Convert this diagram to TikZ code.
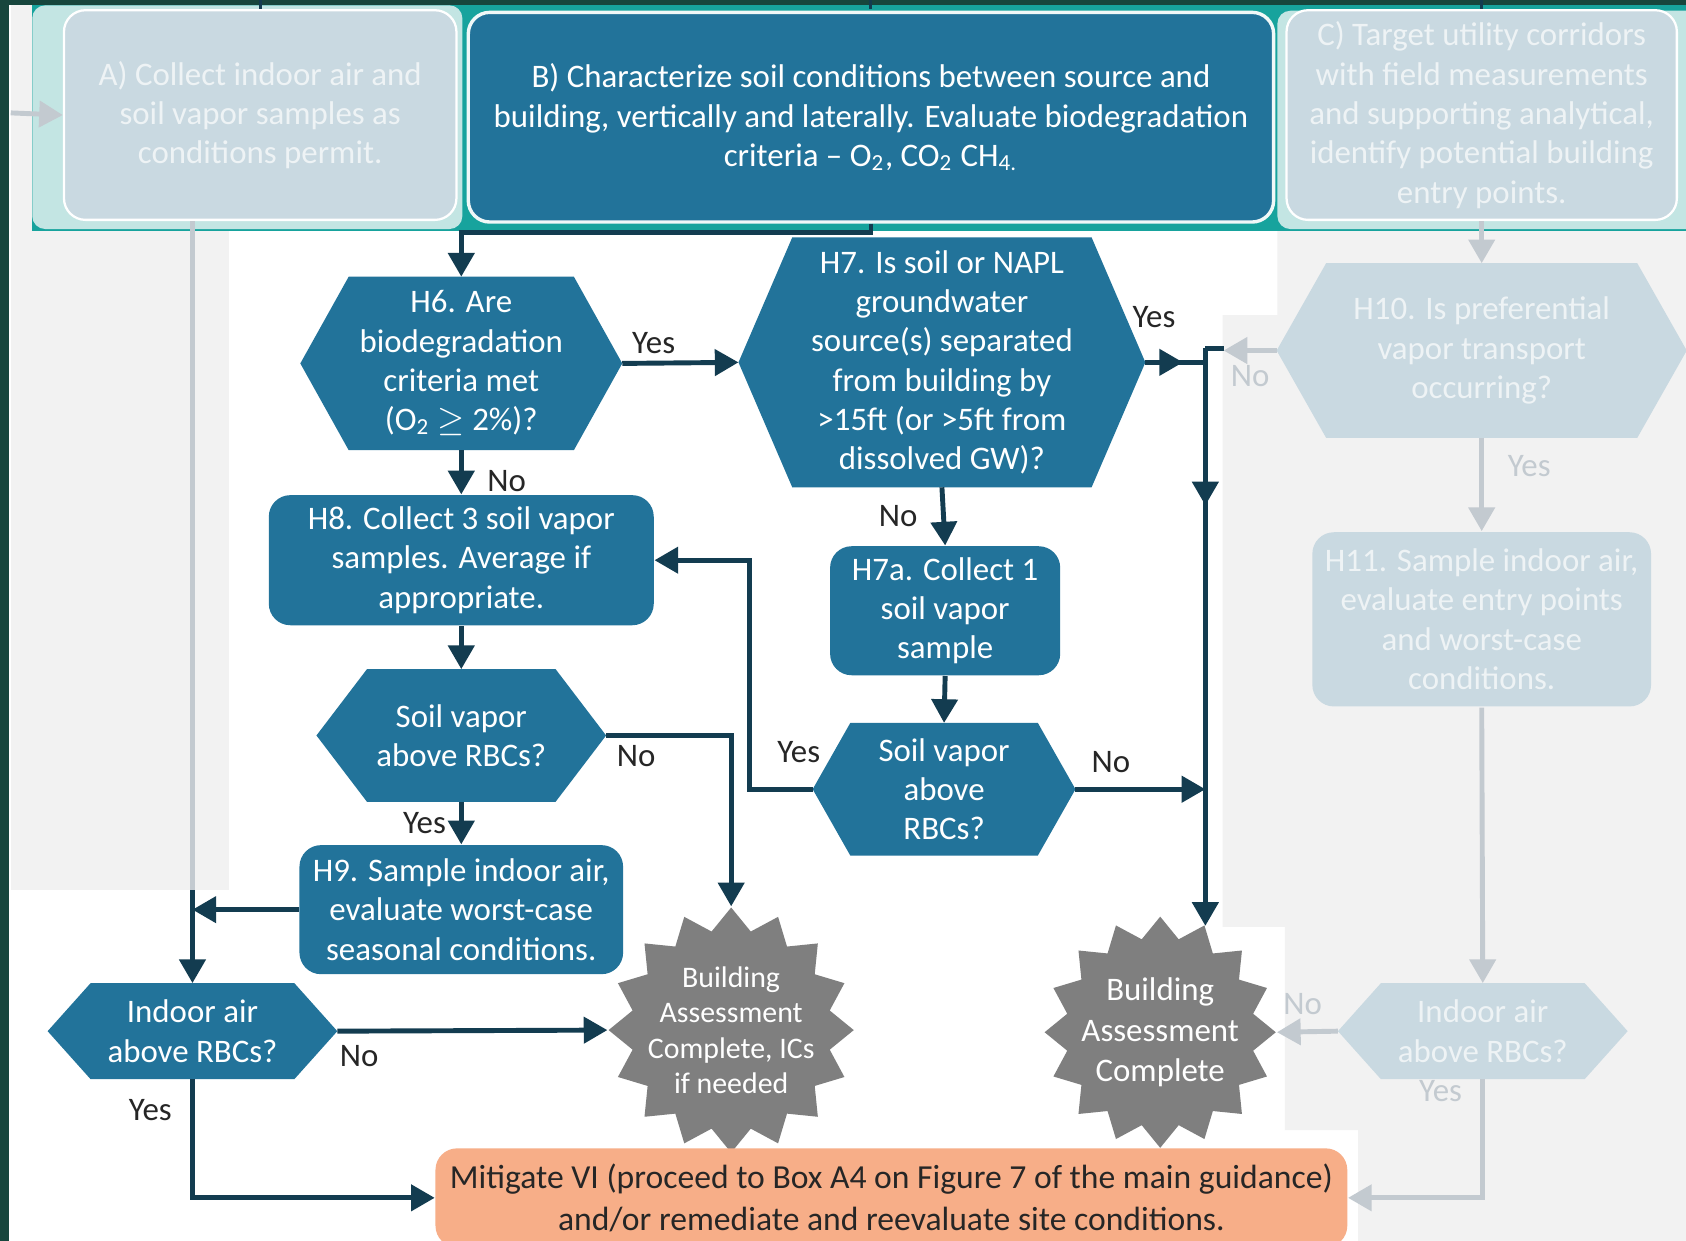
\documentclass[tikz,border=0pt]{standalone}
\usepackage{fontspec}
\setmainfont{Carlito}
\usetikzlibrary{arrows.meta, positioning, calc, shapes.geometric, backgrounds}

\definecolor{nodeblue}{HTML}{22739A}
\definecolor{darkline}{HTML}{133C50}
\definecolor{fadedfill}{HTML}{C9D9E1}
\definecolor{fadedtext}{HTML}{EEF3F5}
\definecolor{fadedline}{HTML}{C3CAD0}
\definecolor{tealband}{HTML}{17A39D}
\definecolor{mint}{HTML}{C3E5E3}
\definecolor{bggrey}{HTML}{F2F2F2}
\definecolor{edgegreen}{HTML}{17463D}
\definecolor{stargrey}{HTML}{7F7F7F}
\definecolor{mitigorange}{HTML}{F7AE88}
\definecolor{labeltext}{HTML}{262626}

\tikzset{
  box/.style={rectangle, rounded corners=2mm, fill=nodeblue, text=white, align=center,
    font=\fontsize{8.7}{10.4}\selectfont, inner sep=0pt},
  fadedbox/.style={box, fill=fadedfill, text=fadedtext, draw=white, line width=0.6pt},
  hexa/.style={rectangle, text=white, align=center, font=\fontsize{8.7}{10.4}\selectfont, inner sep=0pt},
  fadedhexa/.style={hexa, text=fadedtext},
  starn/.style={star, star points=16, star point ratio=1.22, fill=stargrey, inner sep=0pt},
  startxt/.style={text=white, align=center, font=\fontsize{8.7}{10.6}\selectfont},
  conn/.style={draw=darkline, line width=1.3pt},
  arr/.style={conn, -{Triangle[length=2.2mm, width=2.4mm]}},
  fadedconn/.style={draw=fadedline, line width=1.3pt},
  fadedarr/.style={fadedconn, -{Triangle[length=2.2mm, width=2.4mm]}},
  lbl/.style={text=labeltext, font=\fontsize{8.7}{10.4}\selectfont, inner sep=0.7mm},
  fadedlbl/.style={lbl, text=fadedline}
}

\begin{document}
\begin{tikzpicture}[x=0.1mm, y=-0.1mm]
\useasboundingbox (0,0) rectangle (1568,1154);

% top row
\node[fadedbox, minimum width=36.5mm, minimum height=19.5mm] (boxA) at (242,107) {A) Collect indoor air and\\soil vapor samples as\\conditions permit.};
\node[box, draw=white!75!mint, line width=0.9pt, minimum width=74.9mm, minimum height=19.5mm] (boxB) at (810,109)
  {B) Characterize soil conditions between source and\\
   building, vertically and laterally. Evaluate biodegradation\\
   criteria -- O\textsubscript{2}, CO\textsubscript{2} CH\textsubscript{4.}};
\node[fadedbox, minimum width=36.3mm, minimum height=19.5mm] (boxC) at (1378,107) {C) Target utility corridors\\with field measurements\\and supporting analytical,\\identify potential building\\entry points.};

% middle column
\node[hexa, minimum width=29.8mm, minimum height=16mm] (h6) at (429,338) {H6. Are\\biodegradation\\criteria met\\(O\textsubscript{2} $\geq$ 2\%)?};
\node[hexa, minimum width=37.7mm, minimum height=23.1mm] (h7) at (876,337) {H7. Is soil or NAPL\\groundwater\\source(s) separated\\from building by\\>15ft (or >5ft from\\dissolved GW)?};
\node[box, minimum width=35.8mm, minimum height=12.1mm] (h8) at (429,521) {H8. Collect 3 soil vapor\\samples. Average if\\appropriate.};
\node[hexa, minimum width=26.8mm, minimum height=12.2mm] (sv1) at (429,684) {Soil vapor\\above RBCs?};
\node[box, minimum width=30.1mm, minimum height=12mm] (h9) at (429,846) {H9. Sample indoor air,\\evaluate worst-case\\seasonal conditions.};
\node[hexa, minimum width=26.8mm, minimum height=8.8mm] (ia1) at (179,959) {Indoor air\\above RBCs?};
\node[box, minimum width=21.4mm, minimum height=12mm] (h7a) at (879,568) {H7a. Collect 1\\soil vapor\\sample};
\node[hexa, minimum width=24.3mm, minimum height=12.2mm] (sv2) at (878,734) {Soil vapor\\above\\RBCs?};
\node[starn, minimum size=22.8mm, label={[startxt, font=\fontsize{7.9}{9.4}\selectfont]center:{Building\\Assessment\\Complete, ICs\\if needed}}] (star1) at (680,958) {};
\node[starn, minimum size=21.5mm, label={[startxt]center:{Building\\Assessment\\Complete}}] (star2) at (1079,960) {};
\node[box, fill=mitigorange, text=labeltext, font=\fontsize{8.9}{11.1}\selectfont, minimum width=84.8mm, minimum height=9.2mm] (mitig) at (829,1114) {Mitigate VI (proceed to Box A4 on Figure 7 of the main guidance)\\and/or remediate and reevaluate site conditions.};

% right column (faded)
\node[fadedhexa, minimum width=38mm, minimum height=16.1mm] (h10) at (1378,326) {H10. Is preferential\\vapor transport\\occurring?};
\node[fadedbox, draw=none, minimum width=31.5mm, minimum height=16.2mm] (h11) at (1378,576) {H11. Sample indoor air,\\evaluate entry points\\and worst-case\\conditions.};
\node[fadedhexa, minimum width=26.8mm, minimum height=8.8mm] (ia2) at (1379,959) {Indoor air\\above RBCs?};

\coordinate (vx) at (star2.67.5);
\coordinate (vtop) at ($(vx |- h7.east)+(0,-13)$);
\coordinate (vtick) at ($(vtop)+(17,0)$);
\coordinate (greyend) at (ia1.north |- 0,828);
\coordinate (ain) at (10,105);

% connectors
\foreach \b in {boxA, boxB, boxC}
  \draw[conn, line width=0.8pt] (\b.north |- 0,0) -- ++(0,8);
\draw[arr] (boxB.south) -- ++(0,8) -| (h6.north);
\draw[arr] (h6.east) -- (h7.west) node[lbl, at start, above right] (yes1) {Yes};
\draw[arr] (h6.south) -- (h8.north) node[lbl, pos=0.7, right=1.5mm] (no1) {No};
\draw[arr] (h8.south) -- (sv1.north);
\draw[arr] (sv1.south) -- (h9.north) node[lbl, midway, left=0.5mm] (yes2) {Yes};
\draw[arr] (sv1.east) -| (star1.north) node[lbl, pos=0.12, below] (no2) {No};
\draw[conn] (h7.east) -- (h7.east -| vx);
\draw[arr] (h7.east) -- ++(35,0) node[lbl, at start, above=2.3mm, xshift=0.8mm] (yes3) {Yes};
\draw[conn] (vtop) -- (vtick);
\draw[arr] (vtop) -- (star2.67.5);
\draw[arr] (vtop) -- ++(0,146);
\draw[arr] (h7.south) -- (h7a.north) node[lbl, midway, left=1.5mm] (no3) {No};
\draw[arr] (h7a.south) -- (sv2.north);
\draw[arr] (sv2.east) -- (sv2.east -| vx) node[lbl, at start, above right=0.8mm] (no4) {No};
\draw[arr] (sv2.west) -- ++(-59,0) node[lbl, at start, above=1.5mm, xshift=-1.3mm] (yes4) {Yes} |- (h8.east);
\draw[fadedconn] (boxA.south -| ia1.north) -- (greyend);
\draw[arr] (greyend) -- (ia1.north);
\draw[arr] (h9.west) -- (h9.west -| ia1.north);
\draw[arr] (ia1.east) -- (star1.west) node[lbl, at start, below right, xshift=-0.7mm, yshift=-0.4mm] (no5) {No};
\draw[arr] (ia1.south) |- (mitig.west) node[lbl, pos=0.13, left=1mm] (yes5) {Yes};

\draw[fadedarr] (ain) -- (boxA.west);
\draw[fadedarr] (boxC.south) -- (h10.north);
\draw[fadedarr] (h10.west) -- (h10.west -| vtick) node[fadedlbl, midway, below=0.5mm] (no6) {No};
\draw[fadedarr] (h10.south) -- (h11.north) node[fadedlbl, pos=0.3, right=1.5mm] (yes6) {Yes};
\draw[fadedarr] (h11.south) -- (ia2.north);
\draw[fadedarr] (ia2.west) -- (star2.east) node[fadedlbl, at start, above left=0.8mm] (no7) {No};
\draw[fadedarr] (ia2.south) |- (mitig.east) node[fadedlbl, pos=0.05, left=1mm] (yes7) {Yes};

% backdrop and hexagon fills
\begin{scope}[on background layer]
\fill[white] (0,0) rectangle (1568,1154);
\fill[bggrey] (10,5) rectangle (213,828);
\fill[bggrey] (1188,213) -- (1568,213) -- (1568,1154) -- (1263,1154) -- (1263,1051) -- (1195,1051)
  -- (1195,862) -- (1137,862) -- (1137,293) -- (1188,293) -- cycle;
\fill[tealband] (30,5) rectangle (1568,215);
\fill[mint, rounded corners=1.2mm] (30,5) rectangle (430,213);
\fill[mint, rounded corners=1.2mm] (1188,10) rectangle (1580,213);
\fill[edgegreen] (0,0) rectangle (8,1154);
\fill[edgegreen] (0,0) rectangle (1568,5);
\foreach \n/\d/\c in {h6/4.5mm/nodeblue, h7/5mm/nodeblue, sv1/4.7mm/nodeblue, sv2/3.5mm/nodeblue,
    ia1/4mm/nodeblue, h10/4.6mm/fadedfill, ia2/4mm/fadedfill}
  \fill[\c] (\n.west) -- ($(\n.north west)+(\d,0)$) -- ($(\n.north east)+(-\d,0)$) -- (\n.east)
    -- ($(\n.south east)+(-\d,0)$) -- ($(\n.south west)+(\d,0)$) -- cycle;
\end{scope}
\end{tikzpicture}
\end{document}
